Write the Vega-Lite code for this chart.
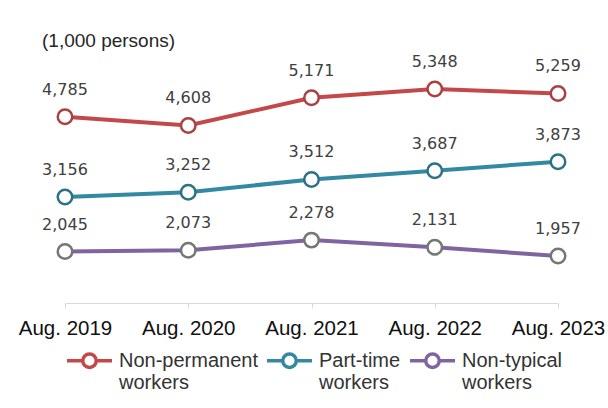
{
  "$schema": "https://vega.github.io/schema/vega-lite/v6.json",
  "width": 493,
  "height": 246,
  "autosize": {"type": "none"},
  "padding": {"left": 65, "top": 57, "right": 50, "bottom": 105},
  "background": "white",
  "title": {
    "text": "(1,000 persons)",
    "anchor": "start",
    "frame": "group",
    "dx": -23,
    "offset": 3,
    "fontSize": 19,
    "font": "Liberation Sans",
    "fontWeight": "normal",
    "color": "#262626"
  },
  "data": {
    "values": [
      {"period": "Aug. 2019", "series": "Non-permanent workers", "value": 4785},
      {"period": "Aug. 2020", "series": "Non-permanent workers", "value": 4608},
      {"period": "Aug. 2021", "series": "Non-permanent workers", "value": 5171},
      {"period": "Aug. 2022", "series": "Non-permanent workers", "value": 5348},
      {"period": "Aug. 2023", "series": "Non-permanent workers", "value": 5259},
      {"period": "Aug. 2019", "series": "Part-time workers", "value": 3156},
      {"period": "Aug. 2020", "series": "Part-time workers", "value": 3252},
      {"period": "Aug. 2021", "series": "Part-time workers", "value": 3512},
      {"period": "Aug. 2022", "series": "Part-time workers", "value": 3687},
      {"period": "Aug. 2023", "series": "Part-time workers", "value": 3873},
      {"period": "Aug. 2019", "series": "Non-typical workers", "value": 2045},
      {"period": "Aug. 2020", "series": "Non-typical workers", "value": 2073},
      {"period": "Aug. 2021", "series": "Non-typical workers", "value": 2278},
      {"period": "Aug. 2022", "series": "Non-typical workers", "value": 2131},
      {"period": "Aug. 2023", "series": "Non-typical workers", "value": 1957}
    ]
  },
  "encoding": {
    "x": {
      "field": "period",
      "type": "ordinal",
      "sort": null,
      "scale": {"type": "point", "padding": 0},
      "axis": {
        "title": null,
        "labelAngle": 0,
        "grid": false,
        "domainColor": "#d9d9d9",
        "tickColor": "#d9d9d9",
        "tickSize": 5,
        "labelFontSize": 20.5,
        "labelFont": "Liberation Sans",
        "labelColor": "#111111",
        "labelPadding": 10
      }
    },
    "y": {
      "field": "value",
      "type": "quantitative",
      "scale": {"domain": [1000, 6000], "zero": false, "nice": false},
      "axis": null
    }
  },
  "layer": [
    {
      "mark": {"type": "line", "strokeWidth": 4},
      "encoding": {
        "color": {
          "field": "series",
          "type": "nominal",
          "scale": {
            "domain": ["Non-permanent workers", "Part-time workers", "Non-typical workers"],
            "range": ["#c4484a", "#3388a2", "#8064a2"]
          },
          "legend": {
            "title": null,
            "orient": "bottom",
            "direction": "horizontal",
            "offset": -3,
            "labelFontSize": 20,
            "labelFont": "Liberation Sans",
            "labelColor": "#333333",
            "labelLimit": 0,
            "labelOffset": 5,
            "columnPadding": 2,
            "symbolType": "M-1,0H-0.3M0.3,0H1M0.3,0A0.3,0.3,0,1,1,-0.3,0A0.3,0.3,0,1,1,0.3,0Z",
            "symbolSize": 2025,
            "symbolStrokeWidth": 3.5,
            "labelExpr": "split(datum.label, ' ')",
            "encode": {
              "symbols": {"update": {"fill": {"value": "white"}, "strokeWidth": {"value": 3.5}}},
              "labels": {"update": {"lineHeight": {"value": 22}}}
            }
          }
        }
      }
    },
    {
      "mark": {"type": "point", "shape": "circle", "size": 210, "filled": false, "fill": "white", "fillOpacity": 1, "strokeWidth": 2.5, "opacity": 1},
      "encoding": {
        "stroke": {
          "field": "series",
          "type": "nominal",
          "scale": {
            "domain": ["Non-permanent workers", "Part-time workers", "Non-typical workers"],
            "range": ["#a8413f", "#2c7186", "#767676"]
          },
          "legend": null
        }
      }
    },
    {
      "mark": {"type": "text", "dy": -27, "font": "DejaVu Sans", "fontSize": 16, "color": "#404040"},
      "encoding": {
        "text": {"field": "value", "type": "quantitative", "format": ","}
      }
    }
  ],
  "config": {
    "view": {"stroke": null}
  }
}
